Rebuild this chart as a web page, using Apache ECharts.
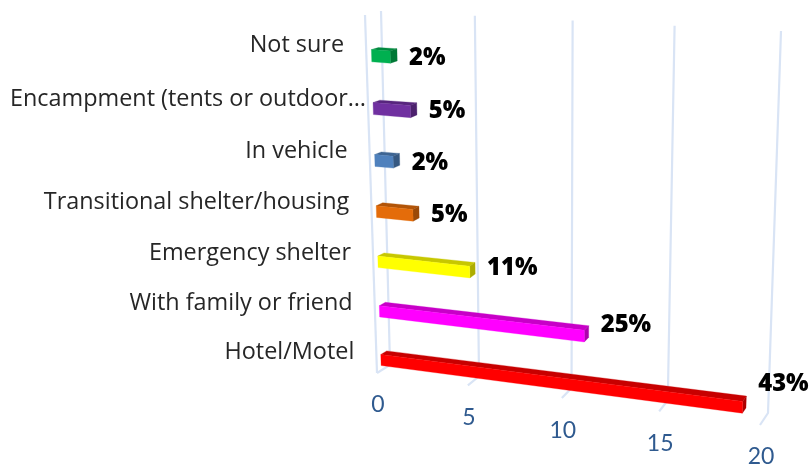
<!DOCTYPE html>
<html>
<head>
<meta charset="utf-8">
<style>html,body{margin:0;padding:0;background:#fff}#chart{width:810px;height:466px}</style>
<script src="https://cdn.jsdelivr.net/npm/echarts@6/dist/echarts.min.js"></script>
</head>
<body>
<div id="chart"></div>
<script>
const categories = ['Not sure','Encampment (tents or outdoor…','In vehicle','Transitional shelter/housing','Emergency shelter','With family or friend','Hotel/Motel'];
const counts = [1,2,1,2,5,11,19];
const percentLabels = ['2%','5%','2%','5%','11%','25%','43%'];
const axisTicks = [0,5,10,15,20];
const barColors = ['#00B050','#7030A0','#4F81BD','#E46C0A','#FFFF00','#FF00FF','#FF0000'];

const W = 810, H = 466;
const LABEL_FONT = '400 23.4px "Open Sans", sans-serif';
const VALUE_FONT = '800 23.8px "Open Sans", sans-serif';
const TICK_FONT = '400 23px Lato, sans-serif';

// Perspective of the chart's box: back wall and front plane as quads (TL, TR, BR, BL)
const backQuad  = [[381,11],[781,31],[768,413],[390,365]];
const frontQuad = [[365,15],[772,43],[760,425],[377,373]];

function squareToQuad(q){
  const [[x0,y0],[x1,y1],[x2,y2],[x3,y3]] = q;
  const dx1=x1-x2, dx2=x3-x2, sx=x0-x1+x2-x3;
  const dy1=y1-y2, dy2=y3-y2, sy=y0-y1+y2-y3;
  const d=dx1*dy2-dx2*dy1;
  const g=(sx*dy2-dx2*sy)/d, h=(dx1*sy-sx*dy1)/d;
  const a=x1-x0+g*x1, b=x3-x0+h*x3, c=x0;
  const e=y1-y0+g*y1, f=y3-y0+h*y3, k=y0;
  return (u,v)=>{const w=g*u+h*v+1;return [(a*u+b*v+c)/w,(e*u+f*v+k)/w];};
}
const backMap = squareToQuad(backQuad), frontMap = squareToQuad(frontQuad);
function project(u,v,z){
  const f=frontMap(u,v), b=backMap(u,v);
  return [f[0]+(b[0]-f[0])*z, f[1]+(b[1]-f[1])*z];
}
const ctx = document.createElement('canvas').getContext('2d');
function textWidth(t,font){ctx.font=font;return ctx.measureText(t).width;}
function shade(hex,k){
  const n=parseInt(hex.slice(1),16);
  const c=[(n>>16)&255,(n>>8)&255,n&255].map(x=>Math.round(x*k));
  return 'rgb('+c.join(',')+')';
}
function poly(pts,fill){return {type:'polygon',shape:{points:pts},style:{fill:fill,stroke:fill,lineWidth:0.3}};}

const Z_FRONT=0.33, Z_BACK=0.78, BAR_TOP=0.17, BAR_BOTTOM=0.40;

function renderGrid(params,api){
  const cs=params.coordSys;
  const u=(api.coord([api.value(0),0])[0]-cs.x)/cs.width;
  const lineStyle={stroke:'#D9E4F5',lineWidth:2.2,fill:null};
  const kids=[{type:'polyline',shape:{points:[project(u,0,1),project(u,1,1),project(u,1,0)]},style:lineStyle}];
  if(api.value(0)===0){
    kids.push({type:'polyline',shape:{points:[project(0,0,0),project(0,1,0)]},style:lineStyle});
  }
  const p=project(u,1,0);
  kids.push({type:'text',style:{text:String(api.value(0)),x:p[0]+1,y:p[1]+32,font:TICK_FONT,fill:'#2F5A8F',textAlign:'center',textVerticalAlign:'middle'}});
  return {type:'group',children:kids};
}

function renderBar(params,api){
  const cs=params.coordSys, i=api.value(1);
  const c0=api.coord([0,i]), c1=api.coord([api.value(0),i]);
  const band=api.size([0,1])[1];
  const u0=(c0[0]-cs.x)/cs.width, u1=(c1[0]-cs.x)/cs.width;
  const t=(c0[1]+BAR_TOP*band-cs.y)/cs.height, b=(c0[1]+BAR_BOTTOM*band-cs.y)/cs.height;
  const col=barColors[i];
  const kids=[
    poly([project(u0,t,Z_FRONT),project(u1,t,Z_FRONT),project(u1,t,Z_BACK),project(u0,t,Z_BACK)],shade(col,0.78)),
    poly([project(u1,t,Z_FRONT),project(u1,t,Z_BACK),project(u1,b,Z_BACK),project(u1,b,Z_FRONT)],shade(col,0.68)),
    poly([project(u0,t,Z_FRONT),project(u1,t,Z_FRONT),project(u1,b,Z_FRONT),project(u0,b,Z_FRONT)],col)
  ];
  // value label: right of the bar end, level with the middle of the bar's length, kept inside the chart
  const txt=percentLabels[i], w=textWidth(txt,VALUE_FONT);
  const end=project(u1,(t+b)/2,Z_BACK);
  const mid=project((u0+u1)/2,(t+b)/2,Z_FRONT);
  const lx=Math.min(end[0]+12,W-w), ly=mid[1]+1.5;
  kids.push({type:'text',z2:5,style:{text:txt,x:lx,y:ly,font:VALUE_FONT,fill:'#000',textAlign:'left',textVerticalAlign:'middle'}});
  // category label
  const name=categories[i], nw=textWidth(name,LABEL_FONT);
  const anchor=project(0,(c0[1]+0.07*band-cs.y)/cs.height,0);
  const left=Math.max(10,anchor[0]-22-nw);
  kids.push({type:'text',style:{text:name,x:left,y:anchor[1],font:LABEL_FONT,fill:'#262626',textAlign:'left',textVerticalAlign:'middle'}});
  return {type:'group',children:kids};
}

const chart=echarts.init(document.getElementById('chart'),null,{renderer:'canvas',width:W,height:H});
chart.setOption({
  animation:false,
  backgroundColor:'#fff',
  grid:{left:0,right:0,top:0,bottom:0,containLabel:false},
  xAxis:{type:'value',min:0,max:20,interval:5,show:false},
  yAxis:{type:'category',data:categories,inverse:true,show:false},
  series:[
    {type:'custom',name:'grid',coordinateSystem:'cartesian2d',clip:false,silent:true,z:1,
     renderItem:renderGrid,data:axisTicks.map(v=>[v,0]),encode:{x:0,y:1}},
    {type:'custom',name:'Responses',coordinateSystem:'cartesian2d',clip:false,z:2,
     renderItem:renderBar,data:counts.map((v,i)=>[v,i]),encode:{x:0,y:1}}
  ]
});
</script>
</body>
</html>
